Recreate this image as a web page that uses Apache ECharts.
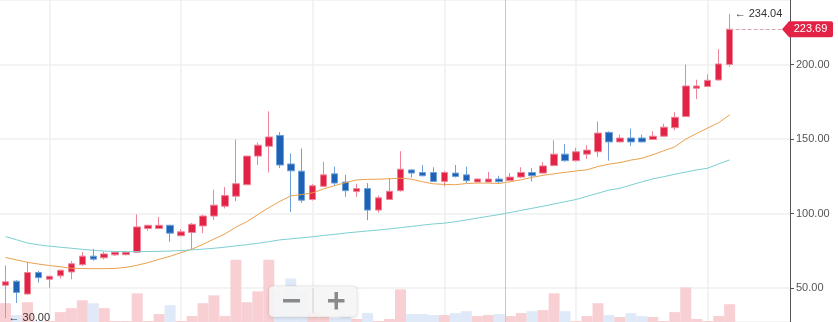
<!DOCTYPE html>
<html><head><meta charset="utf-8">
<script src="https://cdn.jsdelivr.net/npm/echarts@6/dist/echarts.min.js"></script>
<style>html,body{margin:0;padding:0;background:#fff;overflow:hidden}#c{width:838px;height:322px}</style>
</head><body><div id="c"></div>
<script>
// ---- data ----
const openV  = [52.0,54.7,46.1,60.5,56.0,58.3,60.9,65.8,71.5,70.4,72.4,72.5,74.2,90.0,90.0,92.2,85.2,87.4,91.8,98.4,105.0,111.7,119.4,138.6,145.2,152.5,133.3,128.5,109.5,118.3,126.7,121.2,114.8,116.8,102.4,109.5,115.4,129.3,127.6,127.6,121.6,127.2,126.0,121.2,121.2,123.2,122.3,124.5,127.6,127.2,132.2,139.9,135.5,139.9,141.5,154.5,148.1,150.7,150.7,149.7,151.9,157.6,165.1,184.1,185.2,189.6,200.0];
const closeV = [54.3,47.2,60.5,57.1,58.0,62.0,66.4,71.5,69.5,73.0,74.2,74.2,91.1,92.2,92.2,86.9,87.8,92.9,98.4,105.7,112.1,120.1,138.6,145.9,151.4,132.6,128.7,109.0,118.7,126.0,120.5,115.4,116.8,102.4,110.6,115.0,129.8,127.2,125.4,121.6,127.6,124.9,122.1,123.2,123.2,121.4,124.5,127.6,125.4,132.0,139.9,135.5,141.5,142.6,154.0,148.1,150.7,148.1,148.1,151.9,158.0,164.6,185.6,185.6,189.4,200.4,223.69];
const lowV   = [30.0,40.1,45.8,53.8,50.3,56.5,56.0,64.9,68.4,69.3,71.6,72.0,74.0,88.5,89.8,81.2,84.8,75.9,86.9,95.8,103.5,108.3,119.0,132.6,127.6,130.5,101.1,107.3,108.8,118.0,118.7,111.3,111.3,95.6,100.7,109.0,114.8,124.2,125.0,121.2,118.3,124.2,120.5,121.0,121.0,119.9,122.0,123.8,121.6,126.8,131.8,134.8,135.0,136.6,138.1,135.5,147.8,145.4,147.8,149.4,151.5,155.8,164.8,176.8,185.0,189.4,198.4];
const highV  = [65.3,55.6,67.5,61.6,58.5,62.6,68.2,74.2,76.4,74.6,75.0,75.0,99.5,92.4,97.8,92.5,89.6,93.8,99.3,116.1,117.9,149.7,138.8,147.7,168.6,154.7,140.4,143.7,119.8,134.8,131.5,126.0,120.1,120.5,112.1,123.8,141.9,129.8,132.6,131.1,128.7,132.6,131.5,123.6,128.0,125.4,127.3,131.1,130.5,134.6,149.2,146.6,144.1,145.9,161.8,155.2,153.0,157.0,153.0,155.2,160.3,168.0,200.0,189.8,193.4,210.3,234.04];
const volumeV = [19,7,20,1,1,10,14,22,19,14,1,1,29,1,8,17,1,6,19,27,6,63,20,31,63,28,44,30,10,7,4,8,3,9,1,3,33,8,8,7,7,9,11,6,7,8,6,9,11,12,29,11,1,6,19,7,5,9,6,5,1,10,35,3,1,6,18];
const maFast = [70.6,69.0,67.4,66.2,65.2,64.4,63.4,63.2,63.1,63.1,63.3,64.0,65.4,67.2,69.4,71.4,73.9,76.2,79.4,83.0,86.4,91.0,94.6,99.4,104.0,108.2,111.9,112.8,113.9,116.6,118.8,120.8,122.6,123.0,123.1,123.4,123.8,123.1,121.4,120.0,119.6,119.4,120.2,120.5,120.5,120.2,121.4,122.7,124.3,125.7,126.7,127.7,128.6,129.4,131.6,133.2,134.2,135.9,137.1,139.5,142.2,144.8,150.0,153.8,157.4,161.0,166.2];
const maSlow = [84.6,82.5,80.3,79.1,78.2,77.5,76.8,76.1,75.4,74.9,74.6,74.5,74.5,74.6,74.7,74.9,75.3,75.7,76.2,76.8,77.5,78.4,79.2,80.1,81.2,82.4,83.1,83.8,84.5,85.4,86.1,87.0,87.7,88.4,89.0,89.8,90.6,91.4,92.3,93.1,93.6,94.6,95.8,97.0,98.2,99.4,100.8,102.2,103.6,105.0,106.5,108.0,109.5,111.6,113.7,115.8,117.0,119.2,121.3,123.3,124.8,126.4,127.9,129.3,130.5,133.4,136.0];
const emptySlots = 5;            // right offset after the last candle
const crosshairAt = 45.5;        // crosshair between two candles
const yLabelStep = 50;

const slotCount = closeV.length + emptySlots;
const categories = Array.from({length: slotCount}, (_, i) => 'D' + (i + 1));

const UP = '#e22346', UPW = '#ee8498', DN = '#1d62b4', DNW = '#6fa0d9';
const FONT = 'Arial, "Liberation Sans", sans-serif';
const last = closeV.length - 1;
const ohlc = openV.map((o, i) => [o, closeV[i], lowV[i], highV[i]]);
const volData = volumeV.map((v, i) => ({
  value: v,
  itemStyle: { color: closeV[i] >= openV[i] ? '#f8cfd2' : '#dfe9f8' }
}));

const chart = echarts.init(document.getElementById('c'), null, { renderer: 'canvas' });
chart.setOption({
  animation: false,
  backgroundColor: '#ffffff',
  textStyle: { fontFamily: FONT },
  grid: { left: -1.5, right: 48, top: -2, bottom: -2 },
  xAxis: {
    type: 'category', data: categories, boundaryGap: true,
    axisLine: { show: false }, axisTick: { show: false }, axisLabel: { show: false },
    splitLine: { show: true, alignWithLabel: true, interval: (i) => i % 12 === 4,
      lineStyle: { color: '#efefef', width: 1.5 } }
  },
  yAxis: [
    { type: 'value', position: 'right', min: 27.35, max: 243.25,
      axisLine: { show: true, lineStyle: { color: '#555555' } },
      axisTick: { show: true, length: 4, lineStyle: { color: '#555555' } },
      axisLabel: { margin: 6, fontSize: 11, color: '#555555', fontFamily: FONT,
        showMinLabel: false, showMaxLabel: false,
        formatter: (v) => (Math.abs(v % yLabelStep) < 1e-6 ? v.toFixed(2) : '') },
      splitLine: { show: true, lineStyle: { color: '#efefef', width: 1.5 } } },
    { type: 'value', min: 0, max: 326, show: false }
  ],
  series: [
    { type: 'bar', yAxisIndex: 1, data: volData, barWidth: '100%', z: 1, silent: true },
    { type: 'candlestick', data: ohlc, barWidth: 7, z: 3, silent: true,
      itemStyle: { color: UP, color0: DN, borderColor: UPW, borderColor0: DNW, borderWidth: 1 },
      markLine: {
        silent: true, symbol: ['none', 'none'], label: { show: false },
        lineStyle: { type: 'dashed', color: '#d9a9b1', width: 1 },
        data: [[{ coord: [last, closeV[last]] }, { coord: [slotCount - 1, closeV[last]] }]]
      },
      markPoint: {
        silent: true, symbol: 'circle', symbolSize: 0,
        label: { color: '#333333', fontSize: 11, fontFamily: FONT },
        data: [
          { type: 'max', valueDim: 'highest',
            label: { position: 'right', distance: 5, formatter: (p) => '\u2190 ' + Number(p.value).toFixed(2) } },
          { type: 'min', valueDim: 'lowest',
            label: { position: 'right', distance: 3, formatter: (p) => '\u2190 ' + Number(p.value).toFixed(2) } },
          { coord: [slotCount - 1, closeV[last]], value: closeV[last],
            symbol: 'path://M0,8 L7,0 L49,0 Q51,0 51,2 L51,14 Q51,16 49,16 L7,16 Z',
            symbolSize: [51, 16], symbolOffset: [23, 0], symbolKeepAspect: false,
            itemStyle: { color: UP },
            label: { show: true, position: 'inside', color: '#ffffff', fontSize: 11, offset: [3, 0],
              formatter: (p) => Number(p.value).toFixed(2) } }
        ]
      }
    },
    { type: 'line', data: maFast, symbol: 'none', z: 4, silent: true,
      lineStyle: { color: '#e9a24c', width: 1 } },
    { type: 'line', data: maSlow, symbol: 'none', z: 4, silent: true,
      lineStyle: { color: '#7dcfd0', width: 1 } }
  ]
});

const xa = chart.convertToPixel({ xAxisIndex: 0 }, Math.floor(crosshairAt));
const xb = chart.convertToPixel({ xAxisIndex: 0 }, Math.ceil(crosshairAt));
const cx = Math.round(xa + (xb - xa) * (crosshairAt - Math.floor(crosshairAt))) + 0.5;
const BX = 269, BY = 286;   // zoom widget box origin (UI control, not data)
const ICON = '#8a8a8a';
chart.setOption({
  graphic: [
    { id: 'cross', type: 'line', z: 5, silent: true, shape: { x1: cx, y1: 0, x2: cx, y2: 322 },
      style: { stroke: '#c8c8c8', lineWidth: 1 } },
    { id: 'box', type: 'rect', z: 20, silent: true,
      shape: { x: BX, y: BY, width: 88, height: 31, r: 4 },
      style: { fill: 'rgba(247,247,247,0.9)', stroke: 'rgba(0,0,0,0.06)', lineWidth: 1,
        shadowBlur: 4, shadowColor: 'rgba(0,0,0,0.12)', shadowOffsetY: 1 } },
    { id: 'sep', type: 'line', z: 21, silent: true,
      shape: { x1: BX + 44, y1: BY + 2, x2: BX + 44, y2: BY + 27 },
      style: { stroke: '#dcdcdc', lineWidth: 1.5 } },
    { id: 'minus', type: 'rect', z: 21, silent: true,
      shape: { x: BX + 14, y: BY + 13, width: 17, height: 3.5 }, style: { fill: ICON } },
    { id: 'plusH', type: 'rect', z: 21, silent: true,
      shape: { x: BX + 59, y: BY + 13, width: 16.5, height: 3.5 }, style: { fill: ICON } },
    { id: 'plusV', type: 'rect', z: 21, silent: true,
      shape: { x: BX + 65.5, y: BY + 6, width: 3.5, height: 17.5 }, style: { fill: ICON } }
  ]
});
</script>
</body></html>
